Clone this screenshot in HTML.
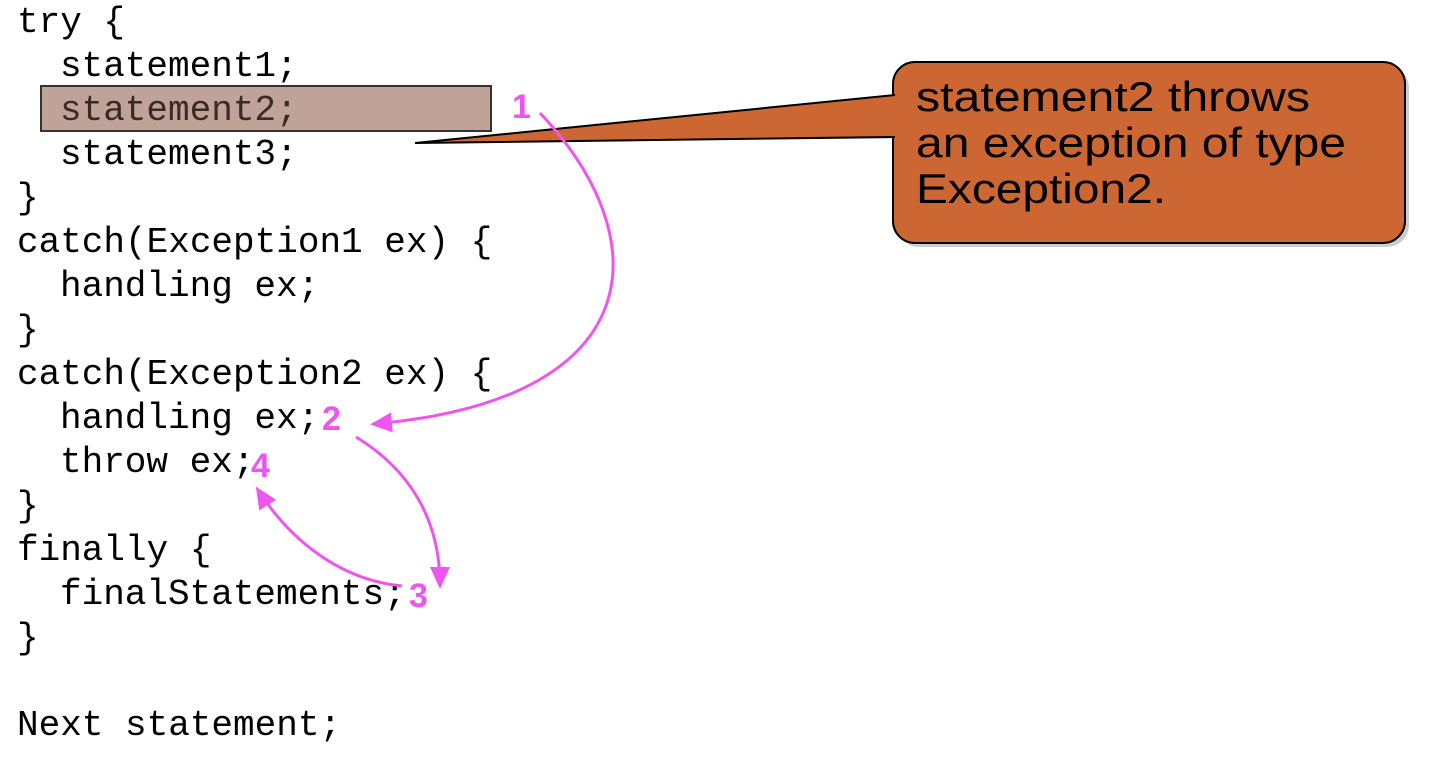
<!DOCTYPE html>
<html><head><meta charset="utf-8"><style>html,body{margin:0;padding:0;background:#fff}svg{display:block}</style></head><body>
<svg width="1432" height="766" viewBox="0 0 1432 766" xmlns="http://www.w3.org/2000/svg">
<defs>
<marker id="ah" markerWidth="22" markerHeight="20" refX="18" refY="10" orient="auto" markerUnits="userSpaceOnUse" viewBox="0 0 22 20">
<path d="M0,0 L22,10 L0,20 z" fill="#ee55ee"/></marker>
</defs>
<rect x="41" y="86" width="450" height="45" fill="#bfa398" stroke="#333" stroke-width="2"/>
<g font-family="'Liberation Mono', monospace" font-size="36" fill="#000">
<text x="17" y="32">try {</text>
<text x="60" y="76">statement1;</text>
<text x="60" y="120" fill="#3a2a25">statement2;</text>
<text x="60" y="164">statement3;</text>
<text x="17" y="208">}</text>
<text x="17" y="252">catch(Exception1 ex) {</text>
<text x="60" y="296">handling ex;</text>
<text x="17" y="340">}</text>
<text x="17" y="384">catch(Exception2 ex) {</text>
<text x="60" y="428">handling ex;</text>
<text x="60" y="472">throw ex;</text>
<text x="17" y="516">}</text>
<text x="17" y="560">finally {</text>
<text x="60" y="604">finalStatements;</text>
<text x="17" y="648">}</text>
<text x="17" y="735">Next statement;</text>
</g>
<rect x="897" y="66" width="512" height="181" rx="22" fill="#999" opacity="0.5"/>
<rect x="893" y="62" width="512" height="181" rx="22" fill="#cc6633" stroke="#000" stroke-width="2"/>
<path d="M895,95 L415,143 L895,137" fill="#cc6633" stroke="#000" stroke-width="2"/>
<g font-family="'Liberation Sans', sans-serif" font-size="42" fill="#000">
<text x="916" y="111" textLength="394" lengthAdjust="spacingAndGlyphs">statement2 throws</text>
<text x="916" y="157" textLength="430" lengthAdjust="spacingAndGlyphs">an exception of type</text>
<text x="916" y="203" textLength="250" lengthAdjust="spacingAndGlyphs">Exception2.</text>
</g>
<g font-family="'Liberation Sans', sans-serif" font-size="34" font-weight="bold" fill="#ee55ee">
<text x="512" y="118">1</text>
<text x="322" y="430">2</text>
<text x="251" y="477">4</text>
<text x="409" y="607">3</text>
</g>
<g fill="none" stroke="#ee55ee" stroke-width="3">
<path d="M540,113 C660,240 650,400 374,424" marker-end="url(#ah)"/>
<path d="M356,437 C410,470 440,520 440,585" marker-end="url(#ah)"/>
<path d="M402,586 C340,580 290,540 258,490" marker-end="url(#ah)"/>
</g>
</svg>
</body></html>
